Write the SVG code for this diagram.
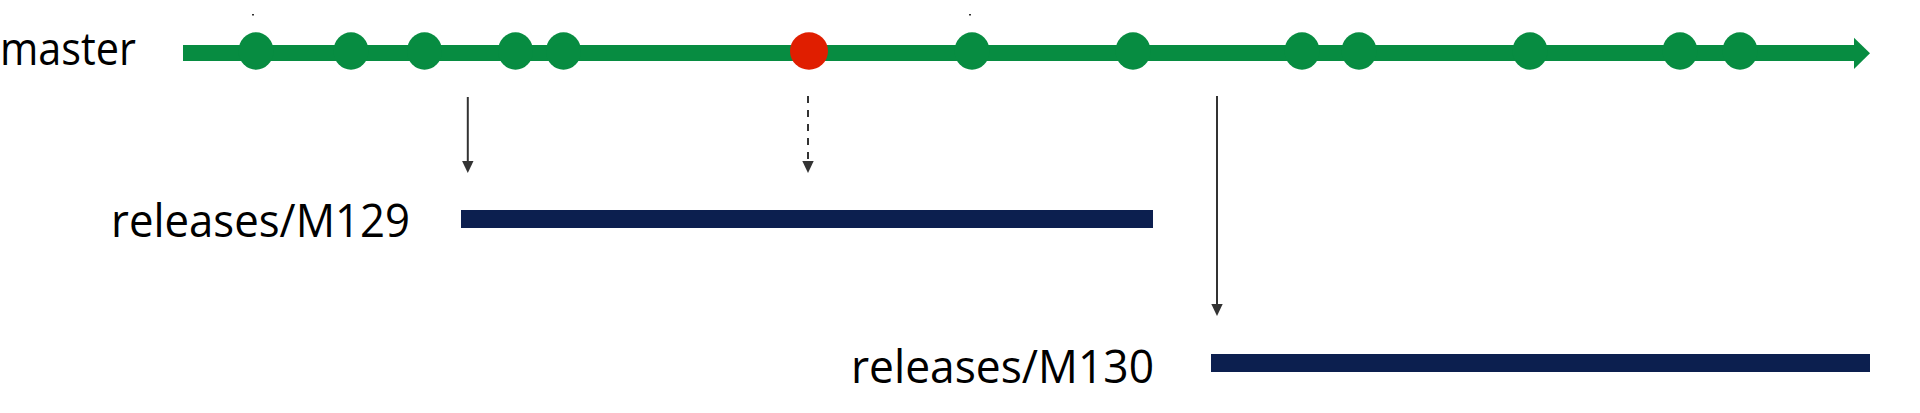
<svg xmlns="http://www.w3.org/2000/svg" width="1920" height="413" viewBox="0 0 1920 413">
<defs>
<style>
.lbl{font-family:"Open Sans","Segoe UI","Liberation Sans",sans-serif;font-size:45px;fill:#000}
.commit{fill:#078c41}
.bad{fill:#e01e00}
.bar{fill:#0c1f4f}
.conn{stroke:#333;stroke-width:2;fill:none}
.dash{stroke-dasharray:7 7}
</style>
<marker id="ah" viewBox="0 0 12 12" refX="0" refY="6" markerWidth="12" markerHeight="12" markerUnits="userSpaceOnUse" orient="auto">
<path d="M0,0.3 L12,6 L0,11.7 z" fill="#333"/>
</marker>
</defs>
<rect width="1920" height="413" fill="#fff"/>
<g id="master">
<text class="lbl" x="0" y="65" textLength="136" lengthAdjust="spacingAndGlyphs">master</text>
<rect x="183" y="45" width="1672" height="16" fill="#078c41"/>
<path d="M1854,37.7 L1870,53.3 L1854,69 z" fill="#078c41"/>
<ellipse class="commit" cx="256" cy="51" rx="17.5" ry="18.8"/>
<ellipse class="commit" cx="351" cy="51" rx="17.5" ry="18.8"/>
<ellipse class="commit" cx="424.5" cy="51" rx="17.5" ry="18.8"/>
<ellipse class="commit" cx="515.5" cy="51" rx="17.5" ry="18.8"/>
<ellipse class="commit" cx="563.5" cy="51" rx="17.5" ry="18.8"/>
<ellipse class="bad" cx="809" cy="51" rx="19" ry="18.8"/>
<ellipse class="commit" cx="972" cy="51" rx="17.5" ry="18.8"/>
<ellipse class="commit" cx="1133" cy="51" rx="17.5" ry="18.8"/>
<ellipse class="commit" cx="1302" cy="51" rx="17.5" ry="18.8"/>
<ellipse class="commit" cx="1359" cy="51" rx="17.5" ry="18.8"/>
<ellipse class="commit" cx="1530" cy="51" rx="17.5" ry="18.8"/>
<ellipse class="commit" cx="1680" cy="51" rx="17.5" ry="18.8"/>
<ellipse class="commit" cx="1740" cy="51" rx="17.5" ry="18.8"/>
<rect x="252" y="14" width="2" height="1.5" fill="#333"/>
<rect x="969" y="14" width="2" height="1.5" fill="#333"/>
</g>
<g id="m129">
<text class="lbl" x="111" y="237" textLength="299" lengthAdjust="spacingAndGlyphs">releases/M129</text>
<rect class="bar" x="461" y="210" width="692" height="18"/>
</g>
<g id="m130">
<text class="lbl" x="851" y="383" textLength="303" lengthAdjust="spacingAndGlyphs">releases/M130</text>
<rect class="bar" x="1211" y="354" width="659" height="18"/>
</g>
<g id="connectors">
<line class="conn" x1="467.8" y1="97" x2="467.8" y2="161" marker-end="url(#ah)"/>
<line class="conn dash" x1="808" y1="96" x2="808" y2="161" marker-end="url(#ah)"/>
<line class="conn" x1="1217" y1="96" x2="1217" y2="304" marker-end="url(#ah)"/>
</g>
</svg>
